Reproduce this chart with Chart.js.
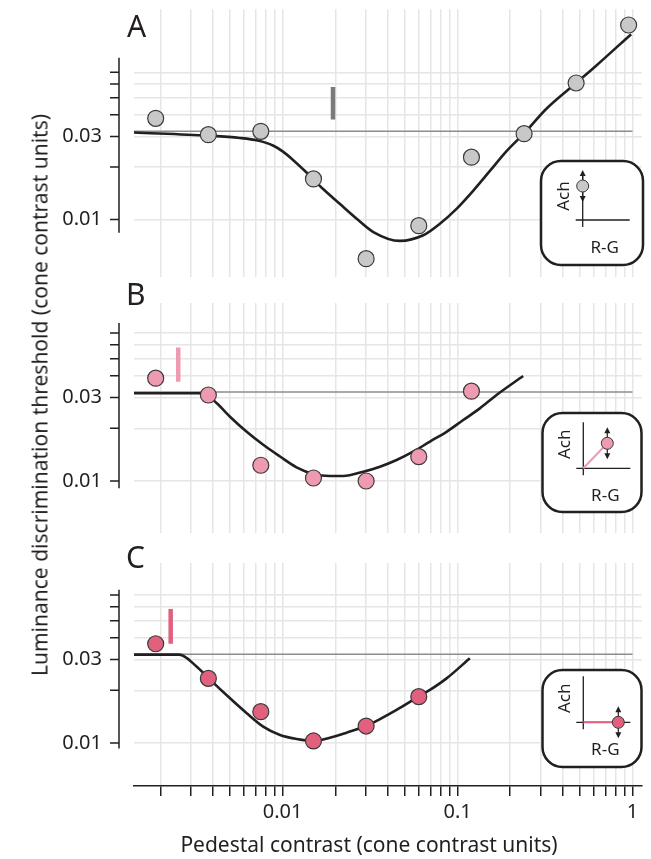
<!DOCTYPE html>
<html><head><meta charset="utf-8">
<script src="https://cdn.jsdelivr.net/npm/chart.js@4.4.0/dist/chart.umd.min.js"></script>
<style>
html,body{margin:0;padding:0;background:#fff;}
#wrap{position:relative;width:651px;height:859px;overflow:hidden;font-family:"Noto Sans",sans-serif;color:#231f20;}
canvas{position:absolute;left:0;top:0;}
.lbl{position:absolute;line-height:1;white-space:nowrap;}
</style></head><body>
<div id="wrap">
<canvas id="cA" width="651" height="859"></canvas>
<canvas id="cB" width="651" height="859"></canvas>
<canvas id="cC" width="651" height="859"></canvas>
<div class="lbl" style="left:127px;top:10.5px;font-size:30px;">A</div>
<div class="lbl" style="left:126px;top:278.5px;font-size:30px;">B</div>
<div class="lbl" style="left:126px;top:541.5px;font-size:30px;">C</div>
<div class="lbl" style="left:40px;top:395px;font-size:21px;transform:translate(-50%,-50%) rotate(-90deg);">Luminance discrimination threshold (cone contrast units)</div>
<div class="lbl" style="left:369px;top:843.5px;font-size:21px;transform:translate(-50%,-50%);">Pedestal contrast (cone contrast units)</div>
</div>
<script>
// ---- axis ticks ----
const xTickVals = [0.002,0.003,0.004,0.005,0.006,0.007,0.008,0.009,0.01,0.02,0.03,0.04,0.05,0.06,0.07,0.08,0.09,0.1,0.2,0.3,0.4,0.5,0.6,0.7,0.8,0.9,1];
const xLabeled = [0.01, 0.1, 1];
const xLabelText = ['0.01', '0.1', '1'];
const yTickVals = [0.01,0.02,0.03,0.04,0.05,0.06,0.07];
const yLabeled = [0.01, 0.03];
const yLabelText = ['0.01', '0.03'];

// ---- panel A (achromatic pedestal) ----
const pedestalA = [0.00188, 0.00376, 0.0075, 0.015, 0.03, 0.06, 0.12, 0.24, 0.476, 0.95];
const thresholdA = [0.0381, 0.0307, 0.0321, 0.0171, 0.00595, 0.00921, 0.0228, 0.0311, 0.0608, 0.131];
const fitAx = [0.00141, 0.00376, 0.0057, 0.0072, 0.0088, 0.0100, 0.0115, 0.0137, 0.0171, 0.0212, 0.0265, 0.033, 0.0468, 0.0636, 0.0792, 0.0986, 0.1227, 0.153, 0.1905, 0.2404, 0.323, 0.476, 0.622, 0.982];
const fitAy = [0.0316, 0.0303, 0.0294, 0.0284, 0.0266, 0.0246, 0.0219, 0.0186, 0.0149, 0.0123, 0.0101, 0.00847, 0.00753, 0.00811, 0.00945, 0.0115, 0.0146, 0.019, 0.0247, 0.0313, 0.0434, 0.0608, 0.0767, 0.116];

// ---- panel B ----
const pedestalB = [0.00188, 0.00376, 0.0075, 0.015, 0.03, 0.06, 0.12];
const thresholdB = [0.0387, 0.031, 0.0123, 0.0104, 0.0100, 0.01377, 0.0326];
const fitBx = [0.00141, 0.00352, 0.0042, 0.005, 0.00623, 0.00774, 0.00966, 0.012, 0.015, 0.0186, 0.0222, 0.0289, 0.036, 0.0448, 0.0557, 0.0695, 0.0865, 0.1077, 0.134, 0.167, 0.237];
const fitBy = [0.0317, 0.0317, 0.0278, 0.0233, 0.0191, 0.0161, 0.0138, 0.01197, 0.01096, 0.01068, 0.01068, 0.0113, 0.01207, 0.01318, 0.0147, 0.0168, 0.0191, 0.0223, 0.026, 0.031, 0.0398];

// ---- panel C ----
const pedestalC = [0.00188, 0.00376, 0.0075, 0.015, 0.03, 0.06];
const thresholdC = [0.0369, 0.0234, 0.0151, 0.01027, 0.0125, 0.0184];
const fitCx = [0.00141, 0.002565, 0.00323, 0.00378, 0.005, 0.00623, 0.00774, 0.00966, 0.012, 0.015, 0.0186, 0.0232, 0.0299, 0.036, 0.0448, 0.0598, 0.0695, 0.0865, 0.1175];
const fitCy = [0.032, 0.032, 0.0273, 0.0234, 0.018, 0.0148, 0.0124, 0.0111, 0.01054, 0.01026, 0.01072, 0.01146, 0.0125, 0.0137, 0.01545, 0.0184, 0.0201, 0.0234, 0.0305];

// ---- reference (detection) lines and threshold bars, per panel A,B,C ----
const baselineX = [0.00141, 1];
const baselineY = [0.0321, 0.0323, 0.0321];
const barX = [0.0194, 0.00253, 0.00229];
const barLow = [0.0375, 0.0369, 0.0369];
const barHigh = [0.0577, 0.058, 0.0583];

// ---- axis ranges ----
const xRange = [0.001413, 1.13];
const yRangeA = [0.004671, 0.16144];
const yRangeB = [0.005045, 0.10402];
const yRangeC = [0.005679, 0.10681];
const ySpanA = [0.0084, 0.085];
const ySpanB = [0.0091, 0.080];
const ySpanC = [0.0093, 0.075];

const INK = '#231f20';
const GRID = '#e6e6e6';
const pts = (xs, ys) => xs.map((x, i) => ({x: x, y: ys[i]}));

function drawInset(ctx, ins) {
  const {x, y, w, h, ox, oy, dx, dy, dotColor, linkColor} = ins;
  ctx.save();
  ctx.fillStyle = '#fff'; ctx.strokeStyle = INK; ctx.lineWidth = 2.5;
  ctx.beginPath(); ctx.roundRect(x, y, w, h, 20); ctx.fill(); ctx.stroke();
  ctx.lineWidth = 1.3;
  ctx.beginPath();
  ctx.moveTo(ox, oy - 46); ctx.lineTo(ox, oy + 7);
  ctx.moveTo(ox - 7, oy); ctx.lineTo(ox + 47, oy);
  ctx.stroke();
  const px = ox + dx, py = oy + dy;
  if (linkColor) {
    ctx.strokeStyle = linkColor; ctx.lineWidth = 2;
    ctx.beginPath(); ctx.moveTo(ox, oy); ctx.lineTo(px, py); ctx.stroke();
  }
  ctx.strokeStyle = INK; ctx.lineWidth = 1.2;
  ctx.beginPath(); ctx.moveTo(px, py - 12); ctx.lineTo(px, py + 12); ctx.stroke();
  ctx.fillStyle = INK;
  ctx.beginPath(); ctx.moveTo(px, py - 16); ctx.lineTo(px - 3, py - 10); ctx.lineTo(px + 3, py - 10); ctx.closePath(); ctx.fill();
  ctx.beginPath(); ctx.moveTo(px, py + 16); ctx.lineTo(px - 3, py + 10); ctx.lineTo(px + 3, py + 10); ctx.closePath(); ctx.fill();
  ctx.fillStyle = dotColor; ctx.strokeStyle = '#3a3a3a'; ctx.lineWidth = 1;
  ctx.beginPath(); ctx.arc(px, py, 6, 0, Math.PI * 2); ctx.fill(); ctx.stroke();
  ctx.fillStyle = INK; ctx.font = '17px "Noto Sans"'; ctx.textAlign = 'center'; ctx.textBaseline = 'middle';
  ctx.save(); ctx.translate(ox - 18.5, oy - 24); ctx.rotate(-Math.PI / 2); ctx.fillText('Ach', 0, 0); ctx.restore();
  ctx.fillText('R-G', ox + 22, oy + 28);
  ctx.restore();
}

const panelDeco = {
  id: 'panelDeco',
  afterDraw(chart, args, opts) {
    const ctx = chart.ctx, ys = chart.scales.y;
    const ax = chart.chartArea.left - 15;
    ctx.save();
    ctx.strokeStyle = INK; ctx.lineWidth = 1.5;
    ctx.beginPath();
    ctx.moveTo(ax, ys.getPixelForValue(opts.span[0]));
    ctx.lineTo(ax, ys.getPixelForValue(opts.span[1]));
    yTickVals.forEach(v => { const p = ys.getPixelForValue(v); ctx.moveTo(ax - 9, p); ctx.lineTo(ax, p); });
    ctx.stroke();
    ctx.restore();
    drawInset(ctx, opts.inset);
  }
};

function makePanel(id, p) {
  return new Chart(document.getElementById(id), {
    type: 'scatter',
    data: { datasets: [
      { data: pts(p.px, p.py), showLine: false, pointRadius: 8, pointBackgroundColor: p.fill, pointBorderColor: '#3a3a3a', pointBorderWidth: 1.2, order: 0 },
      { data: [{x: barX[p.k], y: barLow[p.k]}, {x: barX[p.k], y: barHigh[p.k]}], showLine: true, borderColor: p.barColor, borderWidth: 4.5, borderCapStyle: 'butt', pointRadius: 0, order: 1 },
      { data: pts(p.fx, p.fy), showLine: true, borderColor: INK, borderWidth: 2.6, pointRadius: 0, cubicInterpolationMode: 'monotone', order: 2 },
      { data: [{x: baselineX[0], y: baselineY[p.k]}, {x: baselineX[1], y: baselineY[p.k]}], showLine: true, borderColor: '#8c8c8c', borderWidth: 1.5, pointRadius: 0, order: 3 }
    ]},
    options: {
      responsive: false, animation: false, devicePixelRatio: 1, events: [],
      layout: { padding: { top: p.top, bottom: p.bottom, left: 0, right: 9 } },
      plugins: { legend: { display: false }, tooltip: { enabled: false }, panelDeco: { span: p.span, inset: p.inset } },
      scales: {
        x: {
          type: 'logarithmic', position: 'bottom', min: xRange[0], max: xRange[1],
          afterBuildTicks: s => { s.ticks = xTickVals.map(v => ({value: v})); },
          afterFit: s => { s.height = p.showX ? 73 : 0; s.paddingLeft = 0; s.paddingRight = 0; },
          grid: { color: GRID, lineWidth: 1.5, drawTicks: p.showX, tickLength: 10, tickColor: INK, tickWidth: 1.5 },
          border: { display: p.showX, color: INK, width: 1.5 },
          ticks: { display: p.showX, autoSkip: false, maxRotation: 0, padding: 4, color: INK, font: { family: 'Noto Sans', size: 20 },
                   callback: v => { const i = xLabeled.indexOf(v); return i < 0 ? '' : xLabelText[i]; } }
        },
        y: {
          type: 'logarithmic', position: 'left', min: p.yr[0], max: p.yr[1],
          afterBuildTicks: s => { s.ticks = yTickVals.map(v => ({value: v})); },
          afterFit: s => { s.width = 134; s.paddingTop = 0; s.paddingBottom = 0; },
          grid: { color: GRID, lineWidth: 1.5, drawTicks: false },
          border: { display: false },
          ticks: { autoSkip: false, padding: 32, color: INK, font: { family: 'Noto Sans', size: 20 },
                   callback: v => { const i = yLabeled.indexOf(v); return i < 0 ? '' : yLabelText[i]; } }
        }
      }
    },
    plugins: [panelDeco]
  });
}

makePanel('cA', { k: 0, px: pedestalA, py: thresholdA, fx: fitAx, fy: fitAy, fill: '#c8c8c8', barColor: '#7a7a7a',
  top: 7, bottom: 582, showX: false, yr: yRangeA, span: ySpanA,
  inset: { x: 541, y: 161, w: 102, h: 104, ox: 582.7, oy: 220, dx: 0, dy: -34, dotColor: '#c8c8c8', linkColor: null } });
makePanel('cB', { k: 1, px: pedestalB, py: thresholdB, fx: fitBx, fy: fitBy, fill: '#ee9ab0', barColor: '#ee9ab0',
  top: 303, bottom: 326, showX: false, yr: yRangeB, span: ySpanB,
  inset: { x: 542.5, y: 413, w: 99, h: 99, ox: 583.3, oy: 468.3, dx: 24, dy: -25, dotColor: '#ee9ab0', linkColor: '#ee9ab0' } });
makePanel('cC', { k: 2, px: pedestalC, py: thresholdC, fx: fitCx, fy: fitCy, fill: '#e0607e', barColor: '#e0607e',
  top: 563, bottom: 0, showX: true, yr: yRangeC, span: ySpanC,
  inset: { x: 542.5, y: 670, w: 99, h: 97, ox: 583.3, oy: 722.3, dx: 35, dy: 0, dotColor: '#e0607e', linkColor: '#e0607e' } });
</script>
</body></html>
